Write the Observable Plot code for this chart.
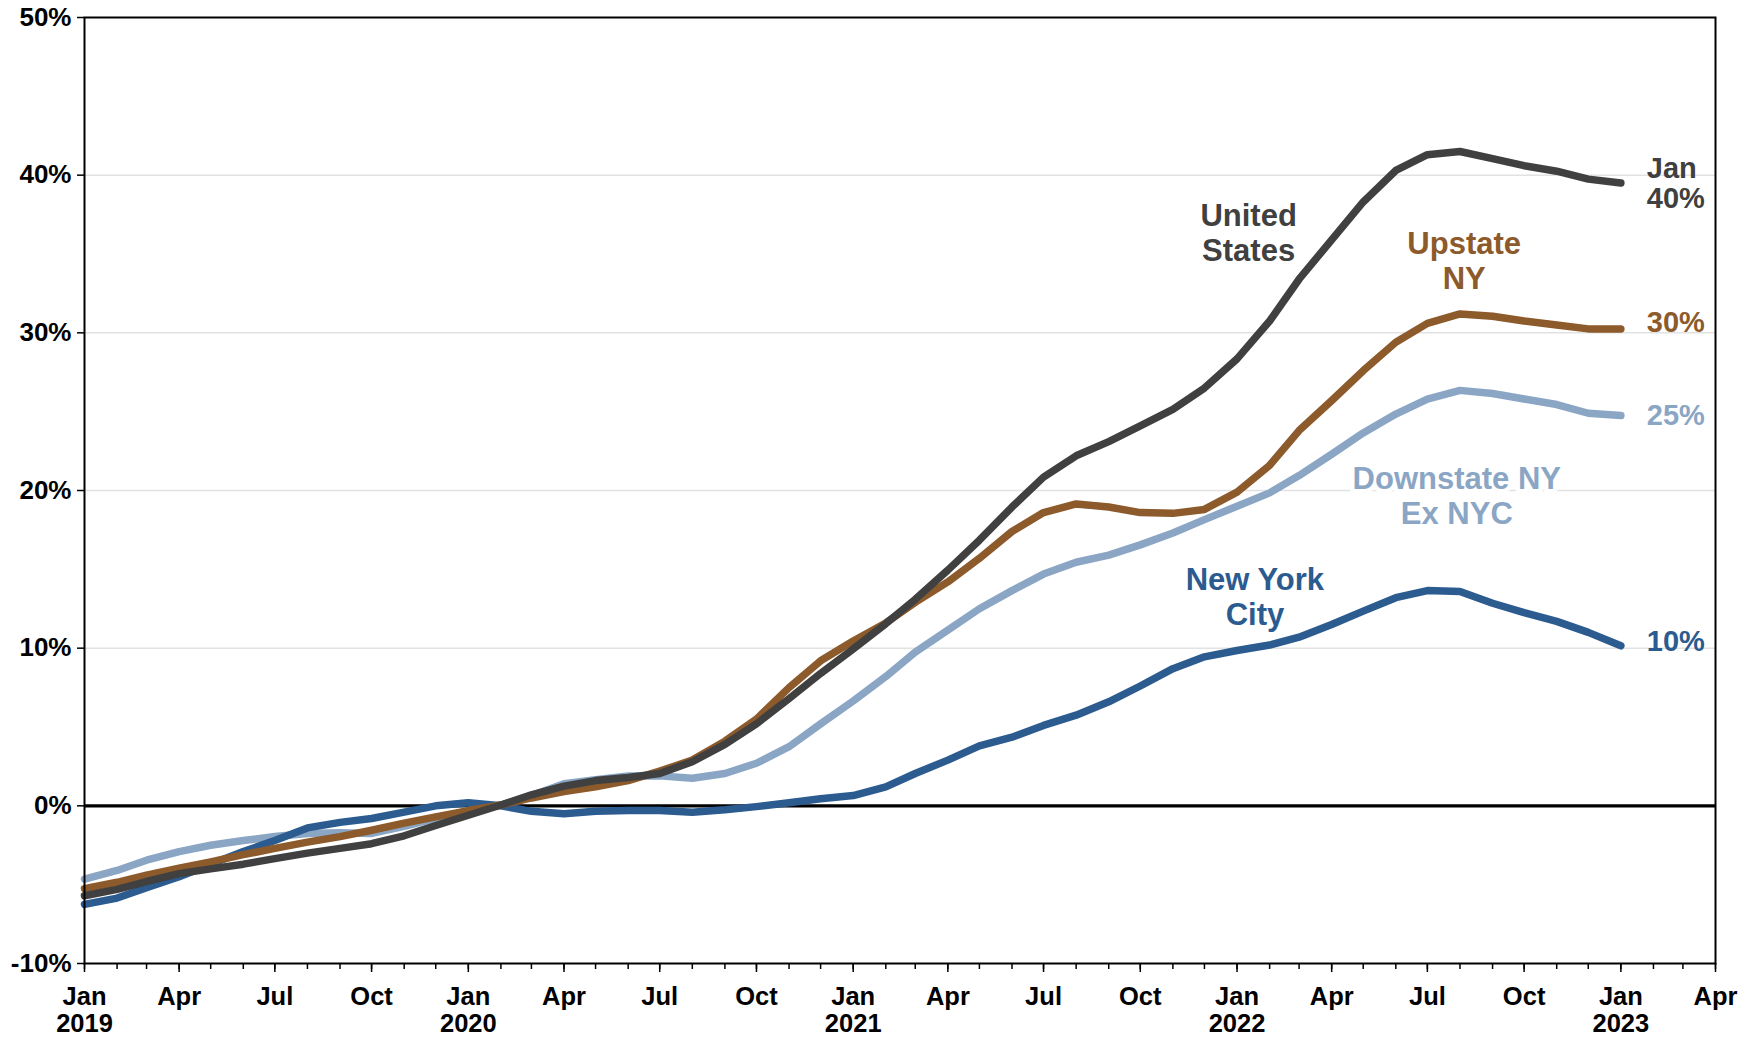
<!DOCTYPE html>
<html>
<head>
<meta charset="utf-8">
<script src="https://cdn.jsdelivr.net/npm/d3@7"></script>
<script src="https://cdn.jsdelivr.net/npm/@observablehq/plot@0.6"></script>
<style>
  html, body { margin: 0; padding: 0; background: #fff; }
  #chart svg { display: block; }
</style>
</head>
<body>
<div id="chart"></div>
<script>
// Monthly observations, Jan 2019 through Jan 2023
const months = d3.utcMonth.range(new Date(Date.UTC(2019, 0, 1)), new Date(Date.UTC(2023, 1, 1)));

// Year-over-year change, percent
const unitedStates = [
  -5.7, -5.3, -4.8, -4.3, -4.0, -3.7, -3.35, -3.0, -2.7, -2.4, -1.9, -1.25,
  -0.6, 0.05, 0.7, 1.25, 1.6, 1.8, 2.05, 2.8, 3.9, 5.2, 6.8, 8.4,
  9.95, 11.55, 13.1, 14.95, 16.85, 18.95, 20.85, 22.2, 23.1, 24.1, 25.15, 26.5,
  28.35, 30.75, 33.4, 35.9, 38.3, 40.3, 41.3, 41.5, 41.05, 40.6, 40.25, 39.75,
  39.5
];
const upstateNY = [
  -5.25, -4.85, -4.4, -3.95, -3.55, -3.1, -2.7, -2.3, -1.95, -1.55, -1.1, -0.7,
  -0.3, 0.05, 0.5, 0.9, 1.2, 1.6, 2.2, 2.9, 4.1, 5.5, 7.5, 9.2,
  10.45, 11.6, 12.9, 14.2, 15.7, 17.4, 18.6, 19.15, 18.95, 18.6, 18.55, 18.8,
  19.9, 21.6, 23.8, 25.7, 27.6, 29.4, 30.6, 31.2, 31.05, 30.75, 30.5, 30.25,
  30.25
];
const downstateExNYC = [
  -4.65, -4.1, -3.45, -2.9, -2.5, -2.2, -1.95, -1.75, -1.7, -1.75, -1.3, -0.8,
  -0.3, 0.05, 0.65, 1.4, 1.65, 1.9, 1.9, 1.75, 2.05, 2.7, 3.75, 5.2,
  6.65, 8.2, 9.75, 11.15, 12.5, 13.65, 14.7, 15.45, 15.9, 16.55, 17.3, 18.15,
  19.0, 19.85, 20.95, 22.3, 23.65, 24.85, 25.8, 26.35, 26.15, 25.8, 25.45, 24.9,
  24.75
];
const newYorkCity = [
  -6.25, -5.85, -5.2, -4.5, -3.7, -2.9, -2.2, -1.4, -1.05, -0.8, -0.4, 0.0,
  0.2, 0.0, -0.35, -0.5, -0.35, -0.3, -0.3, -0.4, -0.25, -0.05, 0.2, 0.45,
  0.65, 1.2, 2.05, 2.9, 3.8, 4.35, 5.1, 5.75, 6.6, 7.6, 8.7, 9.45,
  9.85, 10.2, 10.7, 11.5, 12.35, 13.2, 13.65, 13.6, 12.85, 12.25, 11.7, 11.0,
  10.15
];

const yTicks = [-10, 0, 10, 20, 30, 40, 50];
const gridValues = [10, 20, 30, 40];

// Series drawn back to front
const series = [
  {key: "downstate", name: "Downstate NY\nEx NYC", values: downstateExNYC, color: "#8aa6c4"},
  {key: "nyc", name: "New York\nCity", values: newYorkCity, color: "#2b5b8f"},
  {key: "upstate", name: "Upstate\nNY", values: upstateNY, color: "#8c5a2b"},
  {key: "us", name: "United\nStates", values: unitedStates, color: "#404040"}
];

// Where each series name sits (date, percent)
const nameAnchors = {
  us: [new Date(Date.UTC(2022, 0, 12)), 36.35],
  upstate: [new Date(Date.UTC(2022, 7, 5)), 34.6],
  downstate: [new Date(Date.UTC(2022, 6, 29)), 19.7],
  nyc: [new Date(Date.UTC(2022, 0, 18)), 13.3]
};
// Nudge of the end-of-line value labels
const endLabelDy = {us: 0, upstate: -7, downstate: 0, nyc: -4};

const font = "'Liberation Sans', Arial, Helvetica, sans-serif";
const plotHeight = 1037 - 17 - 74;

const lineMarks = series.map(s =>
  Plot.line(months.map((d, i) => ({date: d, value: s.values[i]})), {
    x: "date", y: "value",
    stroke: s.color, strokeWidth: 7.5,
    strokeLinecap: "round", strokeLinejoin: "round"
  })
);

const endLabels = series.map(s => {
  const last = s.values.length - 1;
  const v = s.values[last];
  const pct = Math.round(v) + "%";
  return Plot.text([{date: months[last], value: v}], {
    x: "date", y: "value",
    text: () => s.key === "us" ? "Jan\n" + pct : pct,
    fill: s.color, fontSize: 29, fontWeight: "bold",
    textAnchor: "start", dx: 26, dy: endLabelDy[s.key], lineHeight: 1.04
  });
});

const nameLabels = series.map(s =>
  Plot.text([{date: nameAnchors[s.key][0], value: nameAnchors[s.key][1]}], {
    x: "date", y: "value",
    text: () => s.name,
    fill: s.color, fontSize: 31, fontWeight: "bold",
    textAnchor: "middle", lineHeight: 1.13,
    ...(s.key === "downstate" ? {stroke: "white", strokeWidth: 9, paintOrder: "stroke"} : {})
  })
);

const quarterTicks = d3.utcMonth.every(3).range(new Date(Date.UTC(2019, 0, 1)), new Date(Date.UTC(2023, 3, 2)));
const monthTicks = d3.utcMonth.range(new Date(Date.UTC(2019, 0, 1)), new Date(Date.UTC(2023, 3, 2)));
const monthName = d3.utcFormat("%b");

const chart = Plot.plot({
  width: 1754,
  height: 1037,
  marginLeft: 84,
  marginRight: 39,
  marginTop: 17,
  marginBottom: 74,
  style: {fontFamily: font, background: "#fff", color: "#000"},
  x: {type: "utc", domain: [new Date(Date.UTC(2019, 0, 1)), new Date(Date.UTC(2023, 3, 1))], label: null},
  y: {domain: [-10, 50], label: null},
  marks: [
    Plot.ruleY(gridValues, {stroke: "#e2e2e2", strokeWidth: 1.5}),
    Plot.ruleY([0], {stroke: "#000", strokeWidth: 3.3}),
    ...lineMarks,
    ...nameLabels,
    ...endLabels,
    Plot.axisY({
      ticks: yTicks, tickFormat: d => d + "%",
      tickSize: 7, tickPadding: 6, fontSize: 26, fontWeight: "bold",
      strokeWidth: 1.5, label: null
    }),
    // monthly minor ticks hanging below the frame
    Plot.ruleX(monthTicks, {stroke: "#000", strokeWidth: 1.5, insetTop: plotHeight, insetBottom: -6}),
    Plot.axisX({
      ticks: quarterTicks,
      tickFormat: d => d.getUTCMonth() === 0 ? "Jan\n" + d.getUTCFullYear() : monthName(d),
      tickSize: 9, tickPadding: 14, fontSize: 25.5, lineHeight: 1.04, fontWeight: "bold",
      strokeWidth: 1.5, label: null
    }),
    Plot.frame({stroke: "#000", strokeWidth: 2})
  ]
});

document.getElementById("chart").append(chart);
</script>
</body>
</html>
